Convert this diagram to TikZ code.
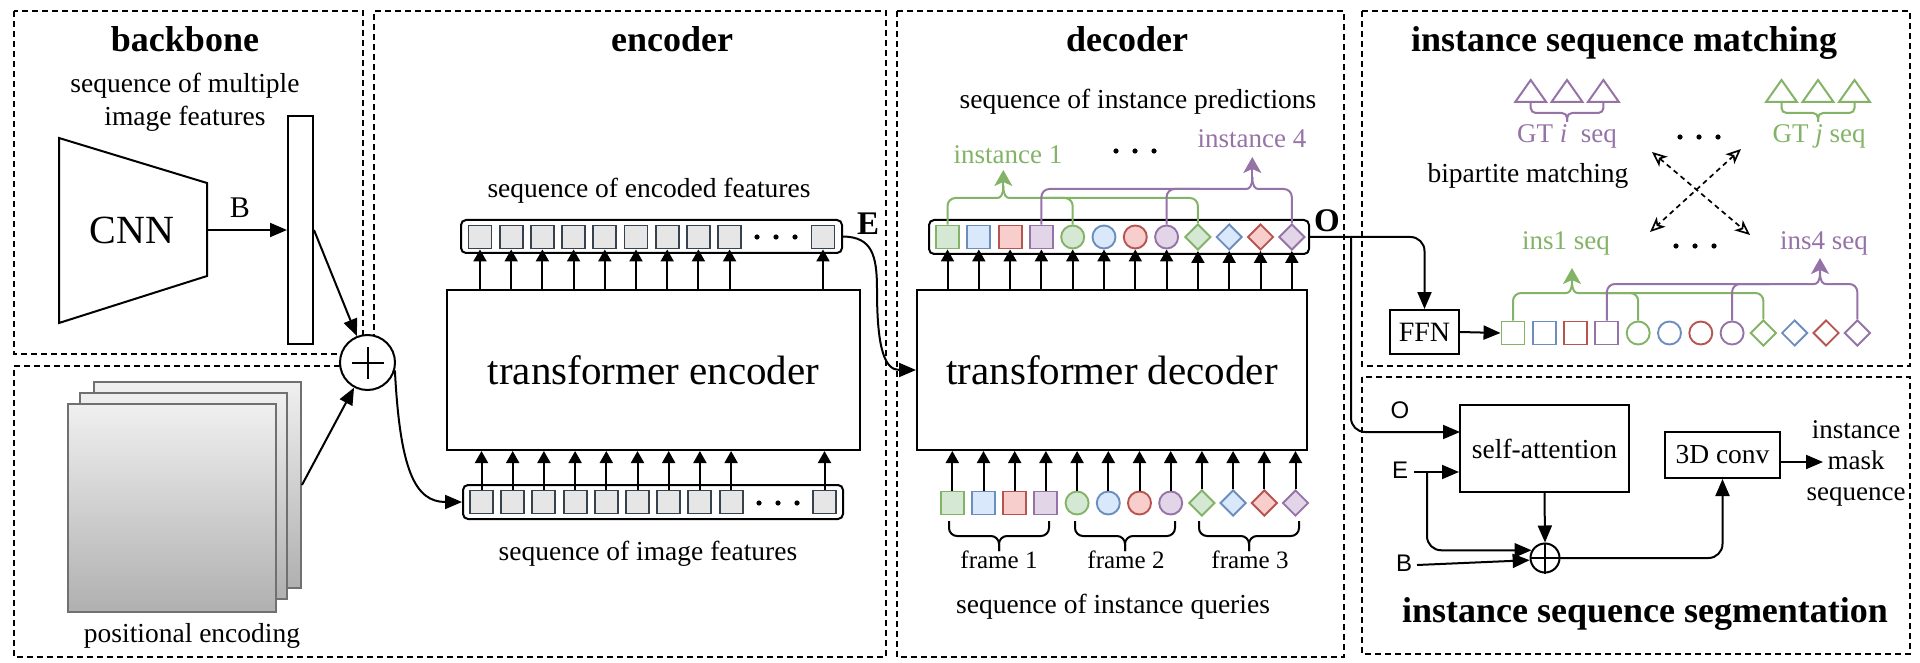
\documentclass[tikz,border=0pt]{standalone}
\usepackage{fontspec}
\setmainfont{Liberation Serif}
\newfontfamily\sansf{Liberation Sans}
\usetikzlibrary{arrows.meta,shapes.geometric,calc}
\newcommand{\fsz}[1]{\fontsize{#1}{#1}\selectfont}
\definecolor{gd}{HTML}{82B366}\definecolor{gf}{HTML}{D5E8D4}
\definecolor{bd}{HTML}{6C8EBF}\definecolor{bf}{HTML}{DAE8FC}
\definecolor{rd}{HTML}{B85450}\definecolor{rf}{HTML}{F8CECC}
\definecolor{pd}{HTML}{9673A6}\definecolor{pf}{HTML}{E1D5E7}
\definecolor{celld}{HTML}{36434F}\definecolor{cellf}{HTML}{E6E6E6}
\definecolor{pegray}{HTML}{707070}
\newcommand{\mybrace}[6]{%
  \draw[#6] (#1,#3) |- ({(#1+#2)/2},#4) -- ({(#1+#2)/2},#5);
  \draw[#6] (#2,#3) |- ({(#1+#2)/2},#4) -- ({(#1+#2)/2},#5);}
\begin{document}
\begin{tikzpicture}[x=1pt,y=-1pt,
  frame/.style={line width=2pt, dash pattern=on 6pt off 4pt},
  lw/.style={line width=2pt},
  arr/.style={line width=2pt, -{Triangle[length=12pt,width=13pt]}},
  barr/.style={line width=2pt, -{Triangle[length=17pt,width=14pt]}},
  farr/.style={line width=2pt, -{Stealth[length=16pt,width=18pt,inset=4pt]}},
  dar/.style={line width=1.7pt, dash pattern=on 5pt off 4pt,
    {Stealth[open,length=15pt,width=13pt,inset=4pt]}-{Stealth[open,length=15pt,width=13pt,inset=4pt]}},
  box/.style={draw, line width=2pt, inner sep=0pt},
  seqbox/.style={draw, line width=2pt, rounded corners=5pt, inner sep=0pt},
  cell/.style={draw=celld, fill=cellf, line width=1.9pt, minimum size=23pt, inner sep=0pt},
  sq/.style={rectangle, minimum size=23pt, inner sep=0pt, line width=1.9pt},
  ci/.style={circle, minimum size=23pt, inner sep=0pt, line width=1.9pt},
  di/.style={diamond, minimum width=26pt, minimum height=26pt, inner sep=0pt, line width=1.9pt},
  gS/.style={draw=gd, fill=gf}, bS/.style={draw=bd, fill=bf},
  rS/.style={draw=rd, fill=rf}, pS/.style={draw=pd, fill=pf},
  gO/.style={draw=gd, fill=white}, bO/.style={draw=bd, fill=white},
  rO/.style={draw=rd, fill=white}, pO/.style={draw=pd, fill=white},
  pe/.style={draw=pegray, line width=1.9pt, top color=gray!12, bottom color=gray!62, inner sep=0pt},
  lbl/.style={anchor=base, font=\fsz{27.5}},
  ttl/.style={anchor=base, font=\fsz{36}\bfseries},
  gline/.style={line width=2pt, draw=gd, rounded corners=8pt},
  pline/.style={line width=2pt, draw=pd, rounded corners=8pt}
]
\useasboundingbox (0,0) rectangle (1920,663);

% ---------- frames ----------
\draw[frame] (14,11) rectangle (363,354);
\draw[frame] (340,366) -- (14,366) -- (14,657) -- (886,657) -- (886,11) -- (374,11) -- (374,340);
\draw[frame] (897,11) rectangle (1344,657);
\draw[frame] (1362,11) rectangle (1910,366);
\draw[frame] (1362,377) rectangle (1910,654);

% ---------- backbone ----------
\node[ttl] at (185,52) {backbone};
\node[lbl] at (185,93) {sequence of multiple};
\node[lbl] at (185,126) {image features};
\draw[lw] (59,138) -- (207,183) -- (207,276) -- (59,323) -- cycle;
\node[font=\fsz{40}] (cnn) at (132,230) {CNN};
\coordinate (cnnout) at (207,230);
\node[box, minimum width=25pt, minimum height=228pt] (bar) at (300.5,230) {};
\draw[barr] (cnnout) -- (bar.west);
\node[anchor=base, font=\fsz{30}] at (240,218) {B};

% ---------- positional encoding ----------
\node[pe, minimum width=207pt, minimum height=206pt] (pe3) at (197.5,485) {};
\node[pe, minimum width=207pt, minimum height=206pt] (pe2) at (183.5,496) {};
\node[pe, minimum width=208pt, minimum height=208pt] (pe1) at (172,508) {};
\node[lbl] at (192,642) {positional encoding};

\node[circle, draw, fill=white, lw, minimum size=55pt, inner sep=0pt] (plus) at (367.5,362.5) {};
\draw[lw] ([xshift=-16pt]plus.center) -- ([xshift=16pt]plus.center);
\draw[lw] ([yshift=-16pt]plus.center) -- ([yshift=16pt]plus.center);
\draw[barr] (bar.east) -- (plus);
\draw[barr] (pe3.east) -- (plus);

% ---------- encoder ----------
\node[ttl] at (672,52) {encoder};
\node[lbl] at (649,198) {sequence of encoded features};
\node[seqbox, minimum width=381pt, minimum height=33pt] (etbox) at (651.5,236.5) {};
\foreach \i in {1,...,9} \node[cell] (et\i) at ({480+31.2*(\i-1)},237) {};
\node[cell] (et10) at (823,237) {};
\foreach \x in {757,776,795} \fill (\x,237) circle (2.6pt);
\node[box, minimum width=413pt, minimum height=160pt, font=\fsz{41}] (tenc) at (653.5,370) {transformer encoder};
\foreach \i in {1,...,10} \draw[arr] (et\i.south |- tenc.north) -- (et\i.south);
\node[seqbox, minimum width=380pt, minimum height=34pt] (ebbox) at (653,502) {};
\foreach \i in {1,...,9} \node[cell] (eb\i) at ({481.5+31.2*(\i-1)},502) {};
\node[cell] (eb10) at (824.5,502) {};
\foreach \x in {759,778,797} \fill (\x,503) circle (2.6pt);
\foreach \i in {1,...,10} \draw[arr] (eb\i.north) -- (eb\i.north |- tenc.south);
\node[lbl] at (648,560) {sequence of image features};
\draw[barr] (plus.-16) .. controls (400,470) and (415,502) .. (ebbox.west);
\node[anchor=base, font=\fsz{33}\bfseries] at (868,235) {E};

% ---------- decoder ----------
\node[ttl] at (1127,52) {decoder};
\node[lbl] at (1138,109) {sequence of instance predictions};
\node[seqbox, minimum width=380pt, minimum height=34pt] (pbox) at (1119,237) {};
\node[anchor=base, font=\fsz{33}\bfseries] at (1327,232) {O};
\foreach \i/\s/\c in {1/sq/gS,2/sq/bS,3/sq/rS,4/sq/pS,5/ci/gS,6/ci/bS,7/ci/rS,8/ci/pS,9/di/gS,10/di/bS,11/di/rS,12/di/pS}
  \node[\s,\c] (p\i) at ({947.5+31.3*(\i-1)},237) {};
\node[box, minimum width=390pt, minimum height=160pt, font=\fsz{41}] (tdec) at (1112,370) {transformer decoder};
\foreach \i in {1,...,12} \draw[arr] (p\i.south |- tdec.north) -- (p\i.south);
\foreach \i/\s/\c in {1/sq/gS,2/sq/bS,3/sq/rS,4/sq/pS,5/ci/gS,6/ci/bS,7/ci/rS,8/ci/pS,9/di/gS,10/di/bS,11/di/rS,12/di/pS}
  \node[\s,\c] (q\i) at ({952.3+31.2*(\i-1)},503) {};
\foreach \i in {1,...,12} \draw[arr] (q\i.north) -- (q\i.north |- tdec.south);
\draw[barr] (etbox.east) .. controls (872,237) and (877,255) .. (877,290) .. controls (877,350) and (885,370) .. (tdec.west);

% decoder forks
\coordinate (i1tip) at (1003.3,170);
\coordinate (i4tip) at (1252.3,157);
\draw[gline] (p1.north) |- (989,198) .. controls (1000,198) and (1003.3,196) .. (1003.3,186);
\draw[gline] (p9.north) |- (1017.6,198) .. controls (1006.6,198) and (1003.3,196) .. (1003.3,186);
\draw[gline] (p5.north) |- (1040,198);
\draw[farr, gd] (1003.3,188) -- (i1tip);
\draw[pline] (p4.north) |- (1238,189) .. controls (1249,189) and (1252.3,187) .. (1252.3,177);
\draw[pline] (p12.north) |- (1266.6,189) .. controls (1255.6,189) and (1252.3,187) .. (1252.3,177);
\draw[pline] (p8.north) |- (1200,189);
\draw[farr, pd] (1252.3,179) -- (i4tip);
\node[anchor=base, font=\fsz{27}, text=gd] at (1008,164) {instance 1};
\node[anchor=base, font=\fsz{27}, text=pd] at (1252,148) {instance 4};
\foreach \x in {1116,1135,1154} \fill (\x,151) circle (2.6pt);

% query braces
\mybrace{949}{1049}{521}{536}{551}{lw, rounded corners=8pt}
\mybrace{1075}{1175}{521}{536}{551}{lw, rounded corners=8pt}
\mybrace{1199}{1299}{521}{536}{551}{lw, rounded corners=8pt}
\node[anchor=base, font=\fsz{25}] at (999,568) {frame 1};
\node[anchor=base, font=\fsz{25}] at (1126,568) {frame 2};
\node[anchor=base, font=\fsz{25}] at (1250,568) {frame 3};
\node[lbl] at (1113,613) {sequence of instance queries};

% ---------- matching ----------
\node[ttl] at (1624,52) {instance sequence matching};
\foreach \x in {1530.7,1567,1603.4} \draw[lw, pd] (\x-15.5,102) -- (\x,80) -- (\x+15.5,102) -- cycle;
\foreach \x in {1781.5,1818,1854.5} \draw[lw, gd] (\x-15.5,102) -- (\x,80) -- (\x+15.5,102) -- cycle;
\mybrace{1530.7}{1603.4}{103}{113}{122}{lw, pd, rounded corners=5pt}
\mybrace{1781.5}{1854.5}{103}{113}{122}{lw, gd, rounded corners=5pt}
\node[anchor=base, font=\fsz{27}, text=pd] at (1567,143) {GT \textit{i}\ \ seq};
\node[anchor=base, font=\fsz{27}, text=gd] at (1819,143) {GT \textit{j} seq};
\foreach \x in {1680,1699,1718} \fill (\x,137) circle (2.6pt);
\node[lbl] at (1528,183) {bipartite matching};
\coordinate (da1) at (1652,152); \coordinate (da2) at (1750,235);
\coordinate (db1) at (1741,149); \coordinate (db2) at (1650,232);
\draw[dar] (da1) -- (da2);
\draw[dar] (db1) -- (db2);
\node[anchor=base, font=\fsz{27}, text=gd] at (1566,250) {ins1 seq};
\node[anchor=base, font=\fsz{27}, text=pd] at (1824,250) {ins4 seq};
\foreach \x in {1676,1695,1714} \fill (\x,246) circle (2.6pt);
\foreach \i/\s/\c in {1/sq/gO,2/sq/bO,3/sq/rO,4/sq/pO,5/ci/gO,6/ci/bO,7/ci/rO,8/ci/pO,9/di/gO,10/di/bO,11/di/rO,12/di/pO}
  \node[\s,\c] (m\i) at ({1513+31.3*(\i-1)},333) {};
\coordinate (s1tip) at (1572,268);
\coordinate (s4tip) at (1820,258);
\draw[gline] (m1.north) |- (1558,293) .. controls (1569,293) and (1572,291) .. (1572,281);
\draw[gline] (m9.north) |- (1586,293) .. controls (1575,293) and (1572,291) .. (1572,281);
\draw[gline] (m5.north) |- (1600,293);
\draw[farr, gd] (1572,283) -- (s1tip);
\draw[pline] (m4.north) |- (1806,284) .. controls (1817,284) and (1820,282) .. (1820,272);
\draw[pline] (m12.north) |- (1834,284) .. controls (1823,284) and (1820,282) .. (1820,272);
\draw[pline] (m8.north) |- (1770,284);
\draw[farr, pd] (1820,274) -- (s4tip);
\node[box, minimum width=69pt, minimum height=44pt, font=\fsz{28}] (ffn) at (1424.5,332) {FFN};
\draw[barr] (ffn.east) -- (m1.west);
\draw[barr, rounded corners=14pt] (pbox.east) -| (ffn.north);

% ---------- segmentation ----------
\node[box, minimum width=169pt, minimum height=87pt, font=\fsz{27.5}] (sa) at (1544.5,448.5) {self-attention};
\node[box, minimum width=115pt, minimum height=46pt, font=\fsz{27.5}] (conv) at (1722.5,455) {3D conv};
\node[circle, draw, lw, minimum size=29pt, inner sep=0pt] (sp) at (1545,558) {};
\draw[lw] (sp.north) -- (sp.south) (sp.west) -- (sp.east);
\node[font=\sansf\fsz{24}] at (1400,410) {O};
\node[font=\sansf\fsz{24}] at (1400,470) {E};
\node[font=\sansf\fsz{24}] at (1404,563) {B};
\coordinate (obr) at (1351,237);
\coordinate (saO) at (1460,432);
\coordinate (Es) at (1414,472);
\coordinate (Ej) at (1427,472);
\coordinate (Bs) at (1417,565);
\coordinate (imo) at (1823,462);
\draw[barr, rounded corners=14pt] (obr) |- (saO);
\draw[barr] (Es) -- (sa.west |- Es);
\draw[barr, rounded corners=14pt] (Ej) |- (sp.150);
\draw[barr] (Bs) -- (sp.188);
\draw[barr] (sa.south) -- (sp.north);
\draw[barr, rounded corners=14pt] (sp.east) -| (conv.south);
\draw[barr] (conv.east |- imo) -- (imo);
\node[align=center, font=\fontsize{27}{31}\selectfont] at (1856,463) {instance\\mask\\sequence};
\node[ttl] at (1645,622) {instance sequence segmentation};
\end{tikzpicture}
\end{document}
